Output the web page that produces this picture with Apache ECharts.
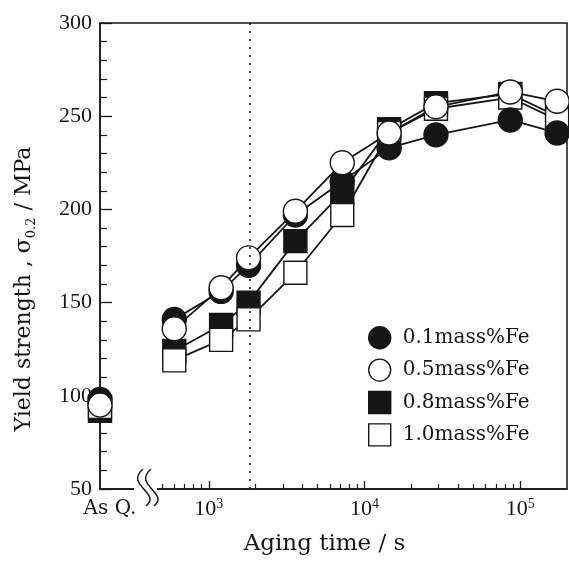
<!DOCTYPE html>
<html>
<head>
<meta charset="utf-8">
<script src="https://cdn.jsdelivr.net/npm/echarts@6/dist/echarts.min.js"></script>
<style>
  html, body { margin: 0; padding: 0; background: #fff; }
  #chart { width: 569px; height: 561px; }
</style>
</head>
<body>
<div id="chart"></div>
<script>
// aging times (s), as-quenched sits at the left end of the axis
const agingTimes = [600, 1200, 1800, 3600, 7200, 14400, 28800, 86400, 172800];
const seriesNames = ["0.1mass%Fe", "0.5mass%Fe", "0.8mass%Fe", "1.0mass%Fe"];

// yield strength, MPa
const asQuenched = [98, 95, 92, 94];
const fe01 = [141, 156, 170, 197, 215, 233, 240, 248, 241];
const fe05 = [136, 158, 174, 199, 225, 241, 255, 263, 258];
const fe08 = [124, 138, 150, 183, 209, 243, 257, 262, 250];
const fe10 = [119, 130, 141, 166, 197, 241, 254, 260, 248];

const majorTicks = [1e3, 1e4, 1e5];
const minorTicks = [500, 600, 700, 800, 900,
  2000, 3000, 4000, 5000, 6000, 7000, 8000, 9000,
  20000, 30000, 40000, 50000, 60000, 70000, 80000, 90000];
const dottedAt = 1800;

const INK = "#161616";
const NUM_FONT = '"Liberation Serif", serif';
const TXT_FONT = '"DejaVu Serif", serif';

const xMin = Math.log10(200);
const xMax = Math.log10(200000);

const chart = echarts.init(document.getElementById("chart"));

/** marker look per series */
const markers = [
  { symbol: "circle", size: 24, fill: INK, border: INK, z: 3 },
  { symbol: "circle", size: 24, fill: "#fff", border: INK, z: 4 },
  { symbol: "rect", size: 23, fill: INK, border: INK, z: 1 },
  { symbol: "rect", size: 23, fill: "#fff", border: INK, z: 2 },
];
const values = [fe01, fe05, fe08, fe10];

const series = [];
seriesNames.forEach((name, i) => {
  const m = markers[i];
  const itemStyle = { color: m.fill, borderColor: m.border, borderWidth: 1.4, opacity: 1 };
  series.push({
    name,
    type: "line",
    z: m.z,
    clip: false,
    symbol: m.symbol,
    symbolSize: m.size,
    showAllSymbol: true,
    lineStyle: { color: INK, width: 1.8 },
    itemStyle,
    data: agingTimes.map((t, k) => [Math.log10(t), values[i][k]]),
    markLine: i === 0 ? {
      silent: true,
      symbol: ["none", "none"],
      label: { show: false },
      lineStyle: { color: INK, width: 1.6, type: [2, 6] },
      data: [{ xAxis: Math.log10(dottedAt) }],
    } : undefined,
  });
  // as-quenched point, not joined to the aging curve
  series.push({
    name,
    type: "scatter",
    z: m.z,
    clip: false,
    symbol: m.symbol,
    symbolSize: m.size,
    itemStyle,
    data: [[xMin, asQuenched[i]]],
  });
});

const option = {
  animation: false,
  backgroundColor: "#fff",
  grid: {
    left: 100, right: 2, top: 23, bottom: 70,
    show: true, borderColor: INK, borderWidth: 1.5,
  },
  legend: {
    orient: "vertical",
    left: 363, top: 321,
    itemWidth: 22, itemHeight: 22, itemGap: 9,
    selectedMode: false,
    textStyle: { fontFamily: TXT_FONT, fontSize: 20, color: INK, padding: [0, 0, 0, 7] },
    data: seriesNames.map((name, i) => ({
      name,
      icon: markers[i].symbol,
      itemStyle: { color: markers[i].fill, borderColor: INK, borderWidth: 1.4 },
    })),
  },
  xAxis: [
    {
      type: "value",
      min: xMin, max: xMax,
      splitLine: { show: false },
      axisLine: { show: true, onZero: false, lineStyle: { color: INK, width: 1.5 } },
      axisTick: {
        show: true, inside: true, length: 8,
        customValues: majorTicks.map(Math.log10),
        lineStyle: { color: INK, width: 1.3 },
      },
      axisLabel: {
        margin: 8,
        customValues: [xMin].concat(majorTicks.map(Math.log10)),
        formatter: (v) => Math.abs(v - xMin) < 1e-6
          ? "{q|As Q.}"
          : "{b|10}{s|" + Math.round(v) + "}",
        rich: {
          q: { fontFamily: TXT_FONT, fontSize: 20, color: INK, padding: [0, 0, 0, 20], lineHeight: 24 },
          b: { fontFamily: NUM_FONT, fontSize: 22, color: INK, lineHeight: 24 },
          s: { fontFamily: NUM_FONT, fontSize: 14, color: INK, lineHeight: 12, verticalAlign: "top" },
        },
      },
      name: "{t|Aging time / s}",
      nameLocation: "middle",
      nameGap: 44,
      nameTextStyle: {
        padding: [0, 18, 0, 0],
        rich: { t: { fontFamily: TXT_FONT, fontSize: 23, color: INK } },
      },
    },
    {
      // minor ticks only
      type: "value",
      position: "bottom",
      min: xMin, max: xMax,
      splitLine: { show: false },
      axisLine: { show: false },
      axisLabel: { show: false },
      axisTick: {
        show: true, inside: true, length: 5,
        customValues: minorTicks.map(Math.log10),
        lineStyle: { color: INK, width: 1.2 },
      },
    },
  ],
  yAxis: {
    type: "value",
    min: 50, max: 300, interval: 50,
    splitLine: { show: false },
    axisLine: { show: true, onZero: false, lineStyle: { color: INK, width: 1.5 } },
    axisTick: { inside: true, length: 12, lineStyle: { color: INK, width: 1.3 } },
    minorTick: { show: true, splitNumber: 5, length: 7, lineStyle: { color: INK, width: 1.2 } },
    axisLabel: { fontFamily: NUM_FONT, fontSize: 22, color: INK, margin: 8 },
    name: "{t|Yield strength , σ}{sub|0.2}{t| / MPa}",
    nameLocation: "middle",
    nameGap: 62,
    nameTextStyle: {
      padding: [0, 66, 0, 0],
      rich: {
        t: { fontFamily: TXT_FONT, fontSize: 22, color: INK, lineHeight: 28 },
        sub: { fontFamily: TXT_FONT, fontSize: 13, color: INK, lineHeight: 13, verticalAlign: "bottom" },
      },
    },
  },
  series,
};

chart.setOption(option);

/** axis break between As Q. and the time scale */
const axisY = chart.convertToPixel({ yAxisIndex: 0 }, 50);
const x0 = 134;
const brk = (dx) => ({
  type: "bezierCurve",
  shape: {
    x1: 143 + dx, y1: axisY - 20,
    x2: 146 + dx, y2: axisY + 17,
    cpx1: 124 + dx, cpy1: axisY - 4,
    cpx2: 162 + dx, cpy2: axisY + 4,
  },
  style: { stroke: INK, lineWidth: 1.5, fill: null },
  z: 100,
});
chart.setOption({
  graphic: [
    { type: "rect", shape: { x: x0, y: axisY - 3, width: 23, height: 6 }, style: { fill: "#fff" }, z: 99 },
    brk(0),
    brk(8),
  ],
});
</script>
</body>
</html>
